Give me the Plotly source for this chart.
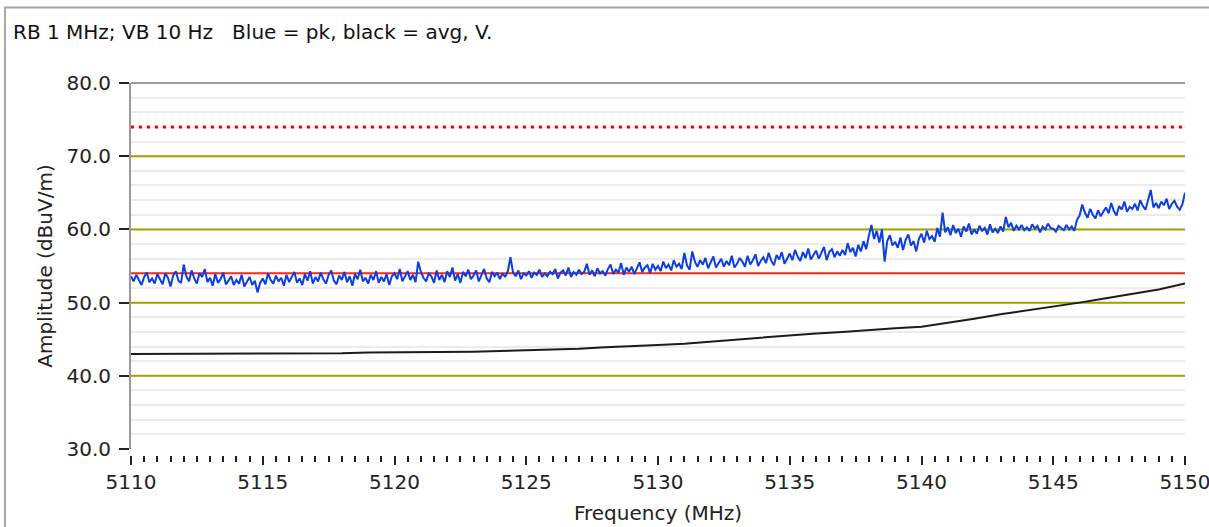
import numpy as np
import plotly.graph_objects as go

# Peak trace (blue), one reading every 0.1 MHz from 5110 to 5150 MHz
freq_start = 5110.0
freq_step = 0.1
peak_dbuv = [
    53.6, 52.9, 53.8, 53.1, 52.4, 53.5, 54.1, 52.8, 53.3, 52.6,
    53.9, 53.2, 52.5, 54.0, 53.4, 52.2, 53.7, 54.3, 53.0, 52.7,
    55.2, 53.6, 52.9, 54.4, 53.3, 52.6, 54.0, 53.5, 54.6, 52.8,
    53.4, 52.3, 53.9, 52.7, 53.2, 54.1, 52.5, 53.0, 53.6, 52.4,
    53.1, 52.6, 53.8, 52.2, 52.9, 53.5, 52.4, 53.0, 51.4, 52.7,
    53.3, 52.5, 54.0, 53.1, 52.6, 53.7, 52.9, 53.4, 52.3, 53.8,
    52.8, 53.6, 54.2, 52.7, 53.3, 52.4, 53.9, 53.0, 54.3, 52.6,
    53.5, 52.9, 54.1, 53.2, 52.6, 53.8, 54.4, 53.0, 52.5, 53.7,
    53.1, 54.2, 52.8, 53.6, 52.3, 53.9, 53.2, 54.5, 52.9, 53.4,
    52.6, 53.8, 53.1, 54.3, 52.7, 53.5, 52.9, 53.9, 52.4, 53.6,
    54.0, 53.2, 54.6, 52.9, 53.7, 54.3, 53.1, 53.8, 52.8, 55.6,
    54.2, 53.4, 52.9, 54.0, 53.6, 52.7, 54.4, 53.1, 53.8, 52.8,
    54.3, 53.5, 54.8, 53.0, 53.9, 52.7, 54.2, 53.6, 54.5, 53.2,
    53.7, 54.4, 52.9, 53.8, 54.6, 53.3, 52.8, 54.2, 53.6, 54.1,
    53.2, 54.0, 53.5, 54.3, 56.2, 54.1, 53.6, 54.4, 53.2, 54.0,
    53.7, 54.3, 53.4, 54.1, 53.8, 54.5, 53.5, 54.0, 53.6, 54.2,
    53.9, 54.6, 53.3, 54.1, 54.4, 53.7, 54.8, 53.5, 54.2, 53.8,
    54.5, 53.9, 54.2, 55.3, 53.8, 54.4, 53.6, 54.7, 54.0, 54.3,
    53.7, 54.6, 55.2, 53.9, 54.5, 54.1, 55.4, 53.8, 54.8, 54.2,
    54.9, 53.9, 54.6, 55.5, 54.2, 54.8, 55.1, 54.0, 55.3, 54.5,
    55.0, 54.3, 55.6, 54.7, 55.2, 54.4, 55.8, 54.9, 55.3, 54.6,
    56.8, 55.1, 54.5, 57.0, 55.6, 54.9, 55.8, 55.2, 56.1, 54.7,
    55.5, 56.3, 54.8, 55.4, 56.0, 54.9, 55.7, 55.1, 56.4, 54.8,
    55.3, 56.1, 55.6, 54.9, 56.4, 55.2, 55.8, 56.6, 55.0, 55.7,
    56.2, 55.4, 56.8, 55.7, 55.1, 56.5, 55.9, 56.9, 55.3, 56.0,
    56.7, 55.8, 57.2, 56.3, 55.7, 56.9, 56.1, 57.4, 55.9, 56.5,
    57.1, 56.0, 56.8, 57.6, 55.8, 56.9, 57.3, 56.2, 57.0, 56.4,
    57.2, 56.5, 58.1, 56.9, 57.5, 56.3, 57.9, 57.0, 58.4, 57.3,
    59.1, 60.6, 58.7, 59.8, 58.2, 60.0, 55.6, 58.4, 59.2, 57.8,
    58.3, 57.5, 58.9, 57.2, 58.6, 59.3, 57.8, 58.4, 57.0, 58.7,
    59.4, 58.2, 59.8, 58.7, 59.1, 58.3, 60.2, 59.0, 62.3, 59.6,
    60.3, 59.2, 60.6, 59.5, 60.1, 59.0, 60.4, 59.7, 60.8, 59.3,
    60.0, 59.4, 60.5, 59.8, 60.2, 59.3, 60.7, 59.6, 60.1, 59.5,
    60.4, 59.7, 61.7, 60.3, 60.9, 59.8, 60.5, 60.0, 60.6, 59.9,
    60.3, 59.8, 60.7, 60.1, 60.5, 59.6, 60.4, 60.0, 60.8, 60.2,
    60.1, 59.7, 60.5, 60.2, 59.9, 60.6, 60.0, 60.4, 59.8, 61.3,
    61.9, 63.4, 62.3, 61.6, 62.8, 62.0, 61.5, 62.6, 61.8, 62.4,
    63.0, 62.2, 63.6, 62.5, 61.9, 63.2, 62.7, 63.8, 62.4, 63.1,
    62.8, 63.5, 62.6, 64.0, 63.2, 62.7, 63.9, 65.4, 63.0, 63.6,
    62.9, 63.8, 63.3, 64.2, 62.8, 63.5, 63.9, 63.1, 62.7, 63.4,
    65.0,
]

# Average trace (black), one reading per MHz
avg_freq = list(range(5110, 5151))
avg_dbuv = [
    43.0, 43.0, 43.0, 43.0, 43.0, 43.0, 43.0, 43.0, 43.1, 43.2,
    43.2, 43.2, 43.2, 43.3, 43.4, 43.5, 43.5, 43.7, 43.9, 44.0,
    44.2, 44.4, 44.7, 45.0, 45.3, 45.5, 45.8, 46.0, 46.3, 46.5,
    46.7, 47.2, 47.8, 48.4, 48.9, 49.4, 50.0, 50.6, 51.2, 51.8,
    52.6,
]

# Limit lines
peak_limit = 74.0
avg_limit = 54.0
limit_freq = [5110, 5150]

# Axis settings
y_range = [30, 80]
y_ticks = [30, 40, 50, 60, 70, 80]
major_grid = [40, 50, 60, 70]

peak_freq = freq_start + freq_step * np.arange(len(peak_dbuv))

font = "DejaVu Sans"
ink = "#222222"

fig = go.Figure()

# Olive major grid lines, drawn as plain lines under the data
for level in major_grid:
    fig.add_trace(go.Scatter(x=limit_freq, y=[level] * 2, mode="lines",
                             line=dict(color="#a3a300", width=2), hoverinfo="skip"))

# Limit lines
fig.add_trace(go.Scatter(x=limit_freq, y=[peak_limit] * 2, mode="lines",
                         line=dict(color="#ff0000", width=3, dash="3px,5px")))
fig.add_trace(go.Scatter(x=limit_freq, y=[avg_limit] * 2, mode="lines",
                         line=dict(color="#ff2a1a", width=2)))

# Average and peak traces
fig.add_trace(go.Scatter(x=avg_freq, y=avg_dbuv, mode="lines",
                         line=dict(color="#1c1c1c", width=2)))
fig.add_trace(go.Scatter(x=peak_freq, y=peak_dbuv, mode="lines",
                         line=dict(color="#0b3fe0", width=2)))

fig.update_layout(
    width=1209, height=527,
    margin=dict(l=131, r=24, t=83, b=72),
    paper_bgcolor="white", plot_bgcolor="white",
    showlegend=False,
    font=dict(family=font, size=20, color=ink),
    title=dict(text="RB 1 MHz; VB 10 Hz   Blue = pk, black = avg, V.",
               xref="container", yref="container",
               x=13 / 1209, xanchor="left",
               y=1 - 32 / 527, yanchor="middle",
               font=dict(family=font, size=20, color="#111111")),
    xaxis=dict(
        range=[5110, 5150], anchor="free", position=0,
        tickmode="linear", tick0=5110, dtick=5,
        ticks="outside", ticklen=9, tickwidth=2, tickcolor=ink,
        minor=dict(dtick=0.5, ticks="outside", ticklen=6, tickwidth=2, tickcolor=ink),
        showgrid=False, zeroline=False, showline=False,
        ticklabeloverflow="allow", automargin=False,
        tickfont=dict(family=font, size=20, color=ink),
        title=dict(text="Frequency (MHz)", standoff=12,
                   font=dict(family=font, size=20, color=ink)),
    ),
    yaxis=dict(
        range=y_range, domain=[0.016, 1],
        tickvals=y_ticks, tickformat=".1f",
        ticks="outside", ticklen=10, tickwidth=2, tickcolor=ink,
        ticklabelstandoff=4, automargin=False,
        showline=True, linecolor="#9a9a9a", linewidth=2,
        showgrid=False, zeroline=False,
        minor=dict(dtick=2, showgrid=True, gridcolor="#ececec", gridwidth=1.5),
        tickfont=dict(family=font, size=20, color=ink),
        title=dict(text="Amplitude (dBuV/m)", standoff=8,
                   font=dict(family=font, size=20, color=ink)),
    ),
)

# plot top border and the outer frame of the window
fig.add_shape(type="line", xref="x domain", yref="paper", x0=0, x1=1, y0=1, y1=1,
              line=dict(color="#9a9a9a", width=2))
fig.add_shape(type="rect", xref="paper", yref="paper",
              x0=-0.1195, x1=1.04, y0=-0.25, y1=1.203,
              line=dict(color="#a6a6a6", width=2))

# the page body has a default margin, drop it so the figure sits at 0,0
fig.write_html("out.html", config={"displayModeBar": False},
               post_script="document.body.style.margin = '0';")
